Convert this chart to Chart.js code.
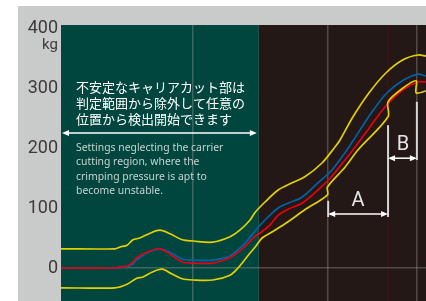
<!DOCTYPE html>
<html>
<head>
<meta charset="utf-8">
<script src="https://cdn.jsdelivr.net/npm/chart.js@4.4.0/dist/chart.umd.min.js"></script>
<style>
  html, body { margin: 0; padding: 0; background: #fff; }
  #wrap { width: 426px; height: 301px; }
</style>
</head>
<body>
<div id="wrap"><canvas id="chart" width="426" height="301"></canvas></div>
<script>
// Crimp force waveform with tolerance envelope

// Axis values
const yTicks = [0, 100, 200, 300, 400];
const gridX = [36.2, 73.2, 89.6, 97.5];
const judgeLine = 89.6;           // dark red line
const unstableEnd = 54.2;         // end of the carrier-cutting zone
const rangeA = [73.2, 89.6];
const rangeB = [89.6, 97.5];

// Waveforms [time, kg]
const waveRed = [[0,0],[14.8,0],[16.2,2],[18.1,3],[19.7,10],[20.8,17],[23.8,27],[27.1,32],[29.9,23],[33.2,10],[36.2,8],[41.6,8],[44.1,12],[46.3,17],[49.9,33],[53.2,53],[54.5,58],[57.3,72],[59.5,88],[62.2,98],[66.0,108],[70.4,130],[74.2,153],[77.8,180],[80.0,197],[84.4,233],[89.0,270],[93.7,297],[97.8,310],[100,310]];
const waveBlue = [[0,0],[14.8,0],[16.2,1],[18.1,2],[19.7,7],[20.8,14],[23.8,26],[27.1,32],[29.9,26],[33.2,15],[36.2,13],[41.6,13],[44.1,16],[46.3,20],[49.9,38],[53.2,62],[55.9,80],[59.5,100],[62.2,108],[66.0,118],[70.4,142],[74.2,163],[77.8,192],[80.0,212],[84.4,253],[89.0,290],[93.7,313],[97.8,323],[100,320]];
const limitUpper = [[0,32],[14.8,32],[16.2,35],[18.1,38],[19.7,47],[21.6,50],[24.4,58],[27.1,63],[29.9,57],[33.2,47],[36.2,45],[41.6,43],[46.3,52],[49.0,63],[51.8,80],[53.2,93],[55.9,110],[59.5,130],[63.3,142],[66.8,152],[71.5,175],[75.1,202],[76.4,213],[80.0,252],[84.4,292],[89.0,325],[93.7,347],[97.8,355],[100,353]];
const limitLower = [[0,-33],[14.8,-33],[18.1,-27],[20.8,-17],[22.5,-15],[24.9,-7],[27.7,-2],[30.4,-10],[33.2,-18],[36.2,-20],[41.6,-20],[46.3,-12],[48.5,0],[51.8,25],[53.2,35],[55.1,50],[57.8,60],[62.2,77],[66.8,97],[73.0,122],[73.0,135],[77.8,168],[81.4,197],[89.6,252],[89.6,277],[93.7,300],[97.3,312],[97.3,292],[100,295]];

// Notes
const noteJa = ['不安定なキャリアカット部は', '判定範囲から除外して任意の', '位置から検出開始できます'];
const noteEn = ['Settings neglecting the carrier', 'cutting region, where the', 'crimping pressure is apt to', 'become unstable.'];

function toPoints(arr) {
    return arr.map(p => ({ x: p[0], y: p[1] }));
}

// Background panels
const backdrop = {
    id: 'backdrop',
    beforeDraw(chart) {
        const { ctx, chartArea: a, scales: { x } } = chart;
        const split = x.getPixelForValue(unstableEnd);
        ctx.save();
        ctx.fillStyle = '#ffffff';
        ctx.fillRect(0, 0, chart.width, chart.height);
        ctx.fillStyle = '#c9caca';
        ctx.fillRect(18, 6, chart.width - 18, chart.height - 6);
        ctx.fillStyle = '#00463f';
        ctx.fillRect(a.left, a.top, split - a.left, a.bottom - a.top);
        ctx.fillStyle = '#231815';
        ctx.fillRect(split, a.top, a.right - split, a.bottom - a.top);
        ctx.restore();
    }
};

function arrowHead(ctx, px, py, dir) {
    ctx.beginPath();
    ctx.moveTo(px, py);
    ctx.lineTo(px - dir * 7, py - 3);
    ctx.lineTo(px - dir * 7, py + 3);
    ctx.closePath();
    ctx.fill();
}

function dimArrow(ctx, x1, x2, py) {
    ctx.beginPath();
    ctx.moveTo(x1 + 2, py);
    ctx.lineTo(x2 - 2, py);
    ctx.stroke();
    arrowHead(ctx, x1, py, -1);
    arrowHead(ctx, x2, py, 1);
}

function vLine(ctx, px, y1, y2) {
    ctx.beginPath();
    ctx.moveTo(px, y1);
    ctx.lineTo(px, y2);
    ctx.stroke();
}

// Dimension marks and notes
const annotations = {
    id: 'annotations',
    afterDatasetsDraw(chart) {
        const { ctx, chartArea: a, scales: { x, y } } = chart;
        const split = x.getPixelForValue(unstableEnd);
        ctx.save();

        // unit
        ctx.fillStyle = '#3e3a39';
        ctx.font = '15px Roboto, sans-serif';
        ctx.textAlign = 'right';
        ctx.textBaseline = 'middle';
        ctx.fillText('kg', a.left - 3, y.getPixelForValue(400) + 17);

        // range marks
        ctx.strokeStyle = '#d6d6d6';
        ctx.lineWidth = 2;
        vLine(ctx, x.getPixelForValue(rangeA[0]), y.getPixelForValue(112), y.getPixelForValue(85));
        vLine(ctx, x.getPixelForValue(rangeA[1]), y.getPixelForValue(238), y.getPixelForValue(85));
        vLine(ctx, x.getPixelForValue(rangeB[1]), y.getPixelForValue(277), y.getPixelForValue(180));

        ctx.strokeStyle = '#ffffff';
        ctx.fillStyle = '#ffffff';
        ctx.lineWidth = 1.5;
        dimArrow(ctx, x.getPixelForValue(rangeA[0]), x.getPixelForValue(rangeA[1]), y.getPixelForValue(90));
        dimArrow(ctx, x.getPixelForValue(rangeB[0]), x.getPixelForValue(rangeB[1]), y.getPixelForValue(183));
        dimArrow(ctx, a.left + 1, split - 2, y.getPixelForValue(225));

        ctx.fillStyle = '#e6e6e6';
        ctx.font = '20px Roboto, sans-serif';
        ctx.textAlign = 'center';
        ctx.fillText('A', x.getPixelForValue(81.4), y.getPixelForValue(112));
        ctx.fillText('B', x.getPixelForValue(93.7), y.getPixelForValue(205));

        // notes in the unstable zone
        ctx.textAlign = 'left';
        ctx.fillStyle = '#ffffff';
        ctx.font = '13px "Noto Sans CJK JP", sans-serif';
        noteJa.forEach((t, i) => ctx.fillText(t, a.left + 15, 87 + i * 16));
        ctx.fillStyle = '#c9d3d0';
        ctx.font = '10.4px "Noto Sans", sans-serif';
        noteEn.forEach((t, i) => ctx.fillText(t, a.left + 15, 148 + i * 14.5));

        ctx.restore();
    }
};

const lineStyle = { pointRadius: 0, borderWidth: 1.7, tension: 0.3, fill: false };

new Chart(document.getElementById('chart'), {
    type: 'line',
    data: {
        datasets: [
            { ...lineStyle, label: 'lower', data: toPoints(limitLower), borderColor: '#e3d000', order: 1 },
            { ...lineStyle, label: 'red', data: toPoints(waveRed), borderColor: '#e60012', order: 2 },
            { ...lineStyle, label: 'blue', data: toPoints(waveBlue), borderColor: '#0062a8', order: 3 },
            { ...lineStyle, label: 'upper', data: toPoints(limitUpper), borderColor: '#e3d000', order: 4 }
        ]
    },
    options: {
        responsive: false,
        animation: false,
        layout: { padding: { left: 0, top: 25, right: 0, bottom: 0 } },
        plugins: {
            legend: { display: false },
            tooltip: { enabled: false }
        },
        scales: {
            x: {
                type: 'linear',
                min: 0,
                max: 100,
                afterBuildTicks: s => { s.ticks = gridX.map(v => ({ value: v })); },
                afterFit: s => { s.height = 0; s.paddingLeft = 0; s.paddingRight = 0; },
                ticks: { display: false },
                border: { display: false },
                grid: {
                    drawTicks: false,
                    lineWidth: 1.5,
                    color: c => c.tick && c.tick.value === judgeLine ? '#4a0c10' : 'rgba(150,150,150,0.4)'
                }
            },
            y: {
                min: -55,
                max: 405,
                afterBuildTicks: s => { s.ticks = yTicks.map(v => ({ value: v })); },
                afterFit: s => { s.width = 61; s.paddingTop = 0; s.paddingBottom = 0; },
                border: { display: false },
                ticks: {
                    padding: 3,
                    color: '#3e3a39',
                    font: { family: 'Roboto', size: 18 }
                },
                grid: {
                    drawTicks: false,
                    lineWidth: 1.5,
                    color: c => c.tick && c.tick.value === 0 ? 'rgba(150,150,150,0.4)' : 'rgba(0,0,0,0)'
                }
            }
        }
    },
    plugins: [backdrop, annotations]
});
</script>
</body>
</html>
